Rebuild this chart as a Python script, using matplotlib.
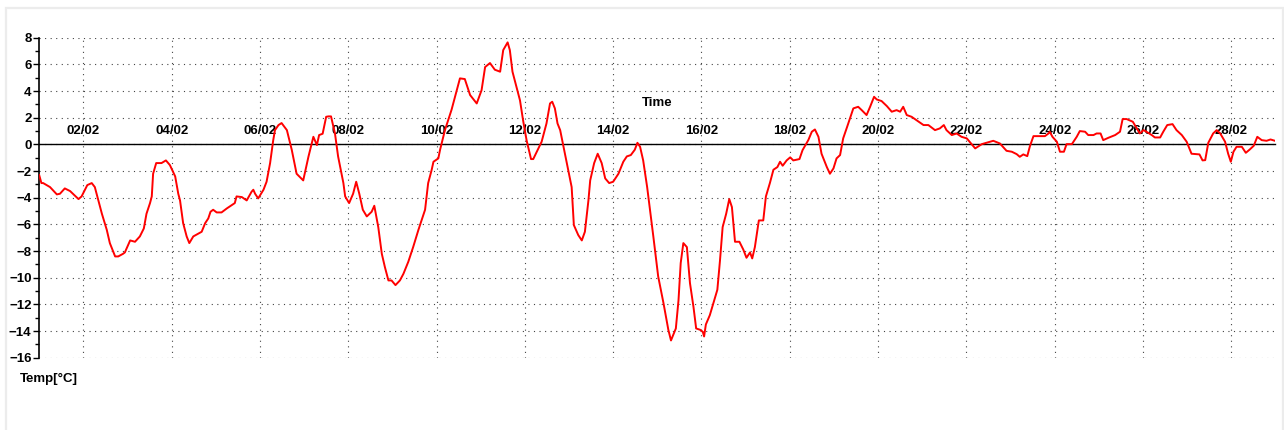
import matplotlib
matplotlib.use("Agg")
import matplotlib.pyplot as plt
import matplotlib.dates as mdates
from matplotlib.ticker import MultipleLocator
from matplotlib.patches import Rectangle
import pandas as pd

plt.rcParams['font.family'] = ['Liberation Sans', 'DejaVu Sans']

# Days elapsed since 2025-02-01 00:00 and temperature readings (°C)
day_offsets = [
    0.00, 0.05, 0.09, 0.245, 0.40, 0.47, 0.58, 0.70, 0.89, 0.96, 1.09, 1.19, 1.26,
    1.34, 1.42, 1.53, 1.60, 1.72, 1.79, 1.90, 1.94, 2.06, 2.17, 2.28, 2.37, 2.43,
    2.51, 2.55, 2.58, 2.65, 2.77, 2.87, 2.96, 3.08, 3.15, 3.19, 3.26, 3.34, 3.40,
    3.49, 3.60, 3.68, 3.76, 3.83, 3.88, 3.94, 4.02, 4.13, 4.25, 4.36, 4.43, 4.47,
    4.59, 4.70, 4.81, 4.85, 4.89, 4.96, 5.08, 5.15, 5.23, 5.30, 5.34, 5.42, 5.49,
    5.61, 5.72, 5.83, 5.98, 6.10, 6.21, 6.29, 6.34, 6.42, 6.50, 6.55, 6.61, 6.70,
    6.77, 6.89, 6.93, 7.02, 7.11, 7.18, 7.25, 7.33, 7.42, 7.53, 7.59, 7.68, 7.76,
    7.83, 7.91, 7.98, 8.07, 8.17, 8.25, 8.36, 8.47, 8.59, 8.74, 8.81, 8.89, 8.93,
    9.04, 9.08, 9.19, 9.34, 9.46, 9.53, 9.64, 9.76, 9.91, 10.02, 10.10, 10.21,
    10.32, 10.44, 10.51, 10.61, 10.66, 10.72, 10.82, 10.89, 10.96, 11.04, 11.14,
    11.19, 11.38, 11.49, 11.57, 11.62, 11.68, 11.74, 11.80, 11.95, 12.06, 12.11,
    12.21, 12.29, 12.36, 12.44, 12.48, 12.57, 12.65, 12.74, 12.82, 12.91, 13.00,
    13.12, 13.23, 13.31, 13.40, 13.49, 13.55, 13.61, 13.68, 13.77, 13.91, 14.02,
    14.14, 14.25, 14.31, 14.42, 14.48, 14.53, 14.59, 14.67, 14.74, 14.82, 14.88,
    14.97, 15.03, 15.06, 15.10, 15.19, 15.27, 15.36, 15.42, 15.48, 15.56, 15.63,
    15.69, 15.76, 15.86, 15.95, 16.02, 16.10, 16.15, 16.21, 16.30, 16.40, 16.46,
    16.55, 16.63, 16.72, 16.78, 16.84, 16.93, 17.01, 17.08, 17.22, 17.29, 17.42,
    17.50, 17.57, 17.65, 17.72, 17.84, 17.91, 17.99, 18.06, 18.14, 18.21, 18.30,
    18.44, 18.55, 18.63, 18.74, 18.82, 18.91, 18.97, 19.08, 19.20, 19.31, 19.42,
    19.50, 19.57, 19.65, 19.76, 19.87, 20.03, 20.14, 20.29, 20.40, 20.49, 20.55,
    20.67, 20.78, 20.89, 21.01, 21.20, 21.35, 21.54, 21.61, 21.76, 21.91, 22.03,
    22.14, 22.21, 22.29, 22.38, 22.44, 22.52, 22.78, 22.86, 22.89, 22.95, 23.05,
    23.12, 23.21, 23.27, 23.39, 23.50, 23.57, 23.69, 23.76, 23.88, 23.95, 24.04,
    24.10, 24.22, 24.37, 24.48, 24.54, 24.63, 24.77, 24.86, 24.93, 25.01, 25.08,
    25.20, 25.27, 25.39, 25.46, 25.55, 25.67, 25.76, 25.88, 25.99, 26.10, 26.22,
    26.28, 26.35, 26.41, 26.48, 26.59, 26.67, 26.75, 26.86, 26.93, 26.99, 27.05,
    27.12, 27.24, 27.33, 27.42, 27.51, 27.59, 27.69, 27.80, 27.89, 27.99,
]
temperatures = [
    -2.3, -2.9, -2.9, -3.2, -3.75, -3.7, -3.3, -3.5, -4.1, -3.9, -3.05, -2.9, -3.2,
    -4.2, -5.2, -6.4, -7.4, -8.4, -8.4, -8.2, -8.1, -7.2, -7.3, -6.9, -6.3, -5.2,
    -4.4, -3.9, -2.2, -1.4, -1.4, -1.2, -1.55, -2.4, -3.7, -4.2, -5.9, -6.9, -7.4,
    -6.9, -6.7, -6.55, -5.9, -5.55, -5.05, -4.9, -5.1, -5.1, -4.8, -4.55, -4.4, -3.9,
    -3.95, -4.2, -3.55, -3.4, -3.7, -4.05, -3.4, -2.8, -1.4, 0.3, 1.07, 1.45, 1.6,
    1.07, -0.4, -2.2, -2.7, -0.9, 0.57, -0.05, 0.7, 0.8, 2.07, 2.1, 2.1, 0.8,
    -0.9, -2.9, -3.9, -4.4, -3.7, -2.8, -3.7, -4.9, -5.4, -5.05, -4.6, -6.2, -8.2,
    -9.2, -10.2, -10.2, -10.55, -10.2, -9.7, -8.8, -7.7, -6.4, -4.9, -2.9, -1.9, -1.3,
    -1.05, -0.4, 1.07, 2.6, 4.07, 4.95, 4.9, 3.7, 3.07, 4.07, 5.8, 6.1,
    5.6, 5.45, 7.07, 7.65, 7.07, 5.45, 4.2, 3.3, 1.8, 0.3, -1.1,
    -1.1, 0.2, 1.57, 3.07, 3.2, 2.7, 1.57, 1.07, -1.4, -3.2, -6.05,
    -6.8, -7.2, -6.55, -4.2, -2.7, -1.4, -0.7, -1.4, -2.55, -2.9, -2.8,
    -2.2, -1.3, -0.9, -0.8, -0.4, 0.12, -0.18, -1.2, -3.2, -6.9, -9.9,
    -11.9, -13.9, -14.7, -13.8, -11.7, -8.9, -7.4, -7.7, -10.4, -12.2, -13.8,
    -13.9, -14.05, -14.4, -13.5, -12.8, -11.9, -10.9, -8.7, -6.2, -5.2, -4.1,
    -4.7, -7.3, -7.3, -7.9, -8.5, -8.1, -8.55, -7.7, -5.7, -5.7, -3.9,
    -2.9, -1.9, -1.7, -1.3, -1.6, -1.2, -0.97, -1.2, -1.1, -0.43, 0.32,
    0.95, 1.12, 0.57, -0.7, -1.7, -2.2, -1.8, -1.05, -0.8, 0.45, 1.32,
    2.7, 2.82, 2.57, 2.2, 2.82, 3.57, 3.37, 3.25, 2.87, 2.45, 2.57,
    2.45, 2.82, 2.2, 2.07, 1.82, 1.45, 1.45, 1.07, 1.2, 1.45, 1.07,
    0.7, 0.82, 0.57, 0.45, -0.3, 0.02, 0.2, 0.27, 0.07, -0.48, -0.55,
    -0.73, -0.93, -0.75, -0.88, -0.13, 0.62, 0.62, 0.82, 0.95, 0.57, 0.2,
    -0.55, -0.55, 0.02, 0.02, 0.57, 1.0, 0.95, 0.7, 0.7, 0.82, 0.82,
    0.32, 0.5, 0.7, 0.95, 1.9, 1.9, 1.7, 1.2, 0.82, 1.07, 0.95,
    0.7, 0.52, 0.52, 0.95, 1.45, 1.52, 1.07, 0.7, 0.2, -0.7, -0.73,
    -0.75, -1.2, -1.18, 0.12, 0.82, 1.07, 0.82, 0.2, -0.7, -1.3, -0.55,
    -0.18, -0.18, -0.63, -0.38, -0.1, 0.57, 0.32, 0.27, 0.37, 0.27,
]

start_date = "2025-02-01"
end_date = "2025-03-01"
y_min, y_max = -16, 8
x_title = "Time"
y_title = "Temp[°C]"

times = pd.Timestamp(start_date) + pd.to_timedelta(day_offsets, unit="D")

W, H = 1284, 430
fig = plt.figure(figsize=(W / 100, H / 100), dpi=100)
fig.patch.set_facecolor("white")

# light panel border (bottom edge runs off the image)
fig.add_artist(Rectangle((6 / W, -0.05), (1283 - 6) / W, 1.05 - 8 / H,
                         transform=fig.transFigure, fill=False,
                         edgecolor="#ececec", linewidth=1.6))

ax_left, ax_right = 39.2 / W, 1275.4 / W
ax_top, ax_bottom = 1 - 37.7 / H, 1 - 357.8 / H
ax = fig.add_axes([ax_left, ax_bottom, ax_right - ax_left, ax_top - ax_bottom])
ax.set_facecolor("white")

ax.plot(times, temperatures, color="#ff0000", linewidth=1.4, zorder=3)

ax.set_xlim(pd.Timestamp(start_date), pd.Timestamp(end_date))
ax.set_ylim(y_min, y_max)

# y axis
ax.yaxis.set_major_locator(MultipleLocator(2))
ax.yaxis.set_minor_locator(MultipleLocator(1))
ax.tick_params(axis="y", which="major", direction="out", length=4, width=1,
               labelsize=9.5, pad=1.5, colors="black")
ax.tick_params(axis="y", which="minor", direction="out", length=3, width=1)
for lbl in ax.get_yticklabels():
    lbl.set_fontweight("bold")

# x axis on the zero line, labels above it
ax.xaxis.set_major_locator(mdates.DayLocator(bymonthday=range(2, 29, 2)))
ax.xaxis.set_major_formatter(mdates.DateFormatter("%d/%m"))
ax.xaxis.set_ticks_position("top")
ax.xaxis.set_label_position("top")
ax.spines["top"].set_position(("data", 0))
ax.spines["top"].set_linewidth(1.0)
ax.spines["top"].set_zorder(2)
ax.tick_params(axis="x", which="major", length=0, labelsize=9.5, pad=5.5,
               colors="black")
for lbl in ax.get_xticklabels():
    lbl.set_fontweight("bold")

ax.spines["bottom"].set_visible(False)
ax.spines["right"].set_visible(False)
ax.spines["left"].set_linewidth(1.2)

ax.grid(True, which="major", axis="both", color="#444444",
        linestyle=(0, (1, 4)), linewidth=0.8)
ax.set_axisbelow(True)

fig.text(657 / W, 1 - 103 / H, x_title, ha="center", va="center",
         fontsize=9.5, fontweight="bold")
fig.text(20 / W, 1 - 379 / H, y_title, ha="left", va="center",
         fontsize=9.5, fontweight="bold")

fig.savefig("out.png", dpi=100, facecolor="white")
